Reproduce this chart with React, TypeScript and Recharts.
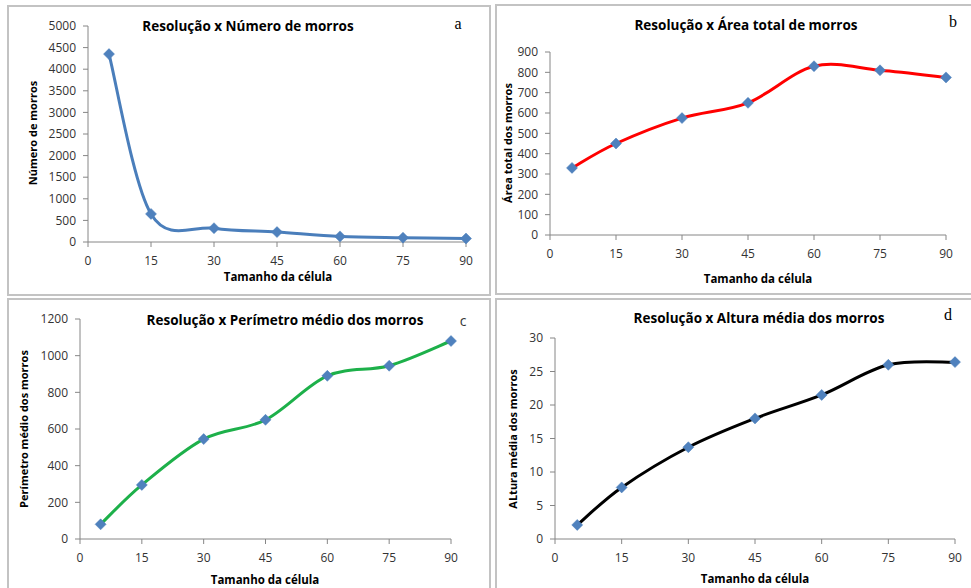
import React from 'react';
import { LineChart, Line, XAxis, YAxis } from 'recharts';

const cellSizes = [5, 15, 30, 45, 60, 75, 90];
const xTicks = [0, 15, 30, 45, 60, 75, 90];

const numMorros = [4350, 650, 320, 230, 130, 100, 80];
const areaTotal = [330, 450, 575, 650, 830, 810, 775];
const perimetro = [80, 295, 545, 650, 890, 945, 1080];
const altura = [2.1, 7.7, 13.7, 18, 21.5, 26, 26.4];

const ticksA = [0, 500, 1000, 1500, 2000, 2500, 3000, 3500, 4000, 4500, 5000];
const ticksB = [0, 100, 200, 300, 400, 500, 600, 700, 800, 900];
const ticksC = [0, 200, 400, 600, 800, 1000, 1200];
const ticksD = [0, 5, 10, 15, 20, 25, 30];

const FONT = '"Open Sans", "Noto Sans", sans-serif';

// Excel-like smoothed line (Catmull-Rom style Bezier)
const excelCurve = (context: any) => {
  let pts: number[][] = [];
  return {
    areaStart() {},
    areaEnd() {},
    lineStart() {
      pts = [];
    },
    point(x: number, y: number) {
      pts.push([+x, +y]);
    },
    lineEnd() {
      const n = pts.length;
      if (!n) return;
      context.moveTo(pts[0][0], pts[0][1]);
      const t = 1 / 6;
      for (let i = 0; i < n - 1; i++) {
        const p0 = pts[Math.max(i - 1, 0)];
        const p1 = pts[i];
        const p2 = pts[i + 1];
        const p3 = pts[Math.min(i + 2, n - 1)];
        context.bezierCurveTo(
          p1[0] + (p2[0] - p0[0]) * t,
          p1[1] + (p2[1] - p0[1]) * t,
          p2[0] - (p3[0] - p1[0]) * t,
          p2[1] - (p3[1] - p1[1]) * t,
          p2[0],
          p2[1]
        );
      }
    },
  };
};

const Diamond = (props: any) => {
  const { cx, cy, index } = props;
  if (cx == null || cy == null) return <g key={`d${index}`} />;
  const r = 5.5;
  return (
    <path
      key={`d${index}`}
      d={`M${cx},${cy - r}L${cx + r},${cy}L${cx},${cy + r}L${cx - r},${cy}Z`}
      fill="#4F81BD"
      stroke="#4A7EBB"
      strokeWidth={0.5}
    />
  );
};

type PanelProps = {
  box: { left: number; top: number; width: number; height: number };
  margin: { top: number; right: number; left: number; bottom: number };
  values: number[];
  yTicks: number[];
  color: string;
  title: string;
  titlePos: [number, number];
  yLabel: string;
  yLabelPos: [number, number];
  xLabelPos: [number, number];
  letter: string;
  letterPos: [number, number];
  letterStyle?: React.CSSProperties;
};

const tickStyle = { fontFamily: FONT, fontSize: 12, fill: '#333333' };

const Panel = (p: PanelProps) => {
  const data = cellSizes.map((x, i) => ({ x, y: p.values[i] }));
  const yMax = p.yTicks[p.yTicks.length - 1];
  const { box } = p;
  const rel = (pos: [number, number]) => ({ left: pos[0] - box.left, top: pos[1] - box.top });
  return (
    <div
      style={{
        position: 'absolute',
        left: box.left,
        top: box.top,
        width: box.width,
        height: box.height,
      }}
    >
      <div
        style={{
          position: 'absolute',
          left: 0,
          top: 0,
          width: box.width,
          height: box.height,
          boxSizing: 'border-box',
          border: '2px solid #C3C3C3',
        }}
      />
      <div style={{ position: 'absolute', left: 0, top: 0 }}>
        <LineChart width={box.width} height={box.height} data={data} margin={{ top: p.margin.top, right: p.margin.right, left: 0, bottom: 0 }}>
          <XAxis
            dataKey="x"
            type="number"
            domain={[0, 90]}
            ticks={xTicks}
            interval={0}
            height={p.margin.bottom}
            stroke="#868686"
            tickSize={5}
            tickMargin={9}
            tick={tickStyle}
            tickLine={{ stroke: '#868686' }}
          />
          <YAxis
            type="number"
            domain={[0, yMax]}
            ticks={p.yTicks}
            interval={0}
            width={p.margin.left}
            stroke="#868686"
            tickSize={5}
            tickMargin={7}
            tick={tickStyle}
            tickLine={{ stroke: '#868686' }}
          />
          <Line
            dataKey="y"
            type={excelCurve as any}
            stroke={p.color}
            strokeWidth={3}
            dot={Diamond}
            activeDot={false}
            isAnimationActive={false}
          />
        </LineChart>
      </div>
      <div
        style={{
          position: 'absolute',
          ...rel(p.titlePos),
          transform: 'translate(-50%, -50%)',
          whiteSpace: 'nowrap',
          fontFamily: FONT,
          fontWeight: 700,
          fontSize: 13.5,
          color: '#000',
        }}
      >
        {p.title}
      </div>
      <div
        style={{
          position: 'absolute',
          ...rel(p.yLabelPos),
          transform: 'translate(-50%, -50%) rotate(-90deg)',
          whiteSpace: 'nowrap',
          fontFamily: FONT,
          fontWeight: 700,
          fontSize: 11,
          color: '#000',
        }}
      >
        {p.yLabel}
      </div>
      <div
        style={{
          position: 'absolute',
          ...rel(p.xLabelPos),
          transform: 'translate(-50%, -50%)',
          whiteSpace: 'nowrap',
          fontFamily: FONT,
          fontWeight: 700,
          fontSize: 11.5,
          color: '#000',
        }}
      >
        Tamanho da célula
      </div>
      <div
        style={{
          position: 'absolute',
          ...rel(p.letterPos),
          transform: 'translate(-50%, -50%)',
          fontFamily: '"Liberation Serif", serif',
          fontSize: 16,
          color: '#000',
          ...(p.letterStyle || {}),
        }}
      >
        {p.letter}
      </div>
    </div>
  );
};

export default function App() {
  return (
    <div
      style={{
        position: 'absolute',
        left: 0,
        top: 0,
        width: 971,
        height: 588,
        overflow: 'hidden',
        background: '#fff',
      }}
    >
      <Panel
        box={{ left: 7, top: 5, width: 484, height: 291 }}
        margin={{ top: 21, right: 25, left: 81, bottom: 54 }}
        values={numMorros}
        yTicks={ticksA}
        color="#4A7EBB"
        title="Resolução x Número de morros"
        titlePos={[248, 26]}
        yLabel="Número de morros"
        yLabelPos={[32, 133]}
        xLabelPos={[278, 276]}
        letter="a"
        letterPos={[458, 24]}
      />
      <Panel
        box={{ left: 495, top: 4, width: 480, height: 291 }}
        margin={{ top: 48, right: 29, left: 55, bottom: 60 }}
        values={areaTotal}
        yTicks={ticksB}
        color="#FF0000"
        title="Resolução x Área total de morros"
        titlePos={[746, 25]}
        yLabel="Área total dos morros"
        yLabelPos={[507, 143]}
        xLabelPos={[758, 278]}
        letter="b"
        letterPos={[953, 22]}
      />
      <Panel
        box={{ left: 7, top: 298, width: 484, height: 296 }}
        margin={{ top: 21, right: 40, left: 73, bottom: 55 }}
        values={perimetro}
        yTicks={ticksC}
        color="#1DB04A"
        title="Resolução x Perímetro médio dos morros"
        titlePos={[285, 320]}
        yLabel="Perímetro médio dos morros"
        yLabelPos={[23, 429]}
        xLabelPos={[265, 579]}
        letter="c"
        letterPos={[463, 320]}
        letterStyle={{ fontFamily: FONT, fontSize: 14, color: '#333' }}
      />
      <Panel
        box={{ left: 495, top: 298, width: 480, height: 296 }}
        margin={{ top: 40, right: 20, left: 60, bottom: 55 }}
        values={altura}
        yTicks={ticksD}
        color="#000000"
        title="Resolução x Altura média dos morros"
        titlePos={[759, 318]}
        yLabel="ALtura média dos morros"
        yLabelPos={[512, 439]}
        xLabelPos={[755, 578]}
        letter="d"
        letterPos={[948, 315]}
      />
    </div>
  );
}
